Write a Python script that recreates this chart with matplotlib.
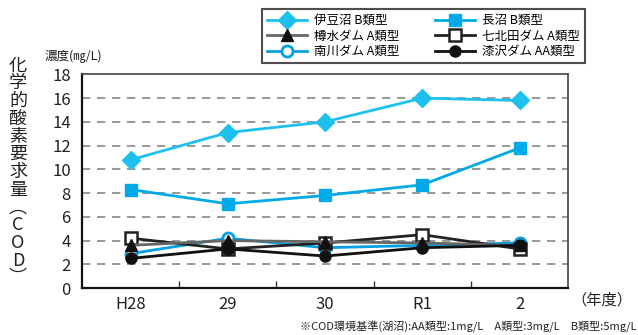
import matplotlib
matplotlib.use("Agg")
import matplotlib.pyplot as plt
from matplotlib.lines import Line2D

plt.rcParams['font.family'] = ['Noto Sans CJK JP', 'DejaVu Sans']

years = ["H28", "29", "30", "R1", "2"]
izunuma = [10.8, 13.1, 14.0, 16.0, 15.8]
naganuma = [8.3, 7.1, 7.8, 8.7, 11.8]
tarumizu = [3.6, 4.0, 3.9, 3.8, 3.6]
nanakita = [4.2, 3.3, 3.8, 4.5, 3.3]
minamikawa = [2.9, 4.2, 3.4, 3.6, 3.8]
urushizawa = [2.5, 3.3, 2.7, 3.4, 3.6]
yticks = [0, 2, 4, 6, 8, 10, 12, 14, 16, 18]

fig = plt.figure(figsize=(6.38, 3.35), dpi=100)
ax = fig.add_axes([0.1285, 0.140, 0.762, 0.638])

x = list(range(len(years)))
c1 = "#1ec0ee"
c2 = "#00a9e8"
c3 = "#00a0e4"

ax.plot(x, izunuma, color=c1, lw=2, marker="D", ms=9, mfc=c1, mec=c1, zorder=5)
ax.plot(x, naganuma, color=c2, lw=2, marker="s", ms=9, mfc=c2, mec=c2, zorder=5)
ax.plot(x, minamikawa, color=c3, lw=2, marker="o", ms=8, mfc="white", mec=c3, mew=2, zorder=4)
ax.plot(x, nanakita, color="#222222", lw=2, marker="s", ms=8, mfc="white", mec="#222222", mew=1.8, zorder=5)
ax.plot(x, tarumizu, color="#666666", lw=2, marker="^", ms=8, mfc="#111111", mec="#111111", zorder=6)
ax.plot(x, urushizawa, color="#111111", lw=2, marker="o", ms=8, mfc="#111111", mec="#111111", zorder=6)

ax.set_xlim(-0.5, len(years) - 0.5)
ax.set_ylim(0, 18)
ax.set_yticks(yticks)
ax.set_yticklabels([str(v) for v in yticks], fontsize=12, color="#222222")
ax.set_xticks(x)
ax.set_xticklabels(years, fontsize=12, color="#222222")
ax.tick_params(axis="x", length=0, pad=6)
ax.tick_params(axis="y", length=0, pad=8)
ax.set_xticks([i + 0.5 for i in range(len(years) - 1)], minor=True)
ax.tick_params(axis="x", which="minor", direction="in", length=5, width=1, color="#333333")

for v in yticks[1:-1]:
    ax.axhline(v, color="#888888", lw=1.2, ls=(0, (5, 4)), zorder=1)

for s in ["left", "bottom"]:
    ax.spines[s].set_linewidth(1.6)
    ax.spines[s].set_color("#111111")
for s in ["top", "right"]:
    ax.spines[s].set_linewidth(1.2)
    ax.spines[s].set_color("#444444")

# Legend
handles = [
    Line2D([], [], color=c1, lw=2, marker="D", ms=9, mfc=c1, mec=c1),
    Line2D([], [], color="#666666", lw=2, marker="^", ms=8, mfc="#111111", mec="#111111"),
    Line2D([], [], color=c3, lw=2, marker="o", ms=8, mfc="white", mec=c3, mew=2),
    Line2D([], [], color=c2, lw=2, marker="s", ms=9, mfc=c2, mec=c2),
    Line2D([], [], color="#222222", lw=2, marker="s", ms=8, mfc="white", mec="#222222", mew=1.8),
    Line2D([], [], color="#111111", lw=2, marker="o", ms=8, mfc="#111111", mec="#111111"),
]
labels = ["伊豆沼 B類型", "樽水ダム A類型", "南川ダム A類型",
          "長沼 B類型", "七北田ダム A類型", "漆沢ダム AA類型"]
leg = fig.legend(handles, labels, ncol=2, loc="upper left",
                 bbox_to_anchor=(262 / 638, 1 - 9 / 335),
                 fontsize=9, frameon=True, fancybox=False, edgecolor="#222222",
                 handlelength=3.2, handletextpad=0.6, columnspacing=2.8,
                 labelspacing=0.2, borderpad=0.4, borderaxespad=0)
leg.get_frame().set_linewidth(1.5)

# Vertical y label
ylabel = "化学的酸素要求量︵COD︶"
fig.text(18 / 638, 1 - 172 / 335, "\n".join(ylabel), fontsize=13, ha="center", va="center",
         linespacing=0.98, color="#222222")

fig.text(45 / 638, 1 - 56 / 335, "濃度(㎎/L)", fontsize=9, ha="left", va="center", color="#222222")
fig.text(632 / 638, 1 - 300 / 335, "（年度）", fontsize=11, ha="right", va="center", color="#222222")
fig.text(636 / 638, 1 - 327 / 335, "※COD環境基準(湖沼):AA類型:1mg/L　A類型:3mg/L　B類型:5mg/L",
         fontsize=8, ha="right", va="center", color="#222222")

fig.savefig("out.png", dpi=100)
